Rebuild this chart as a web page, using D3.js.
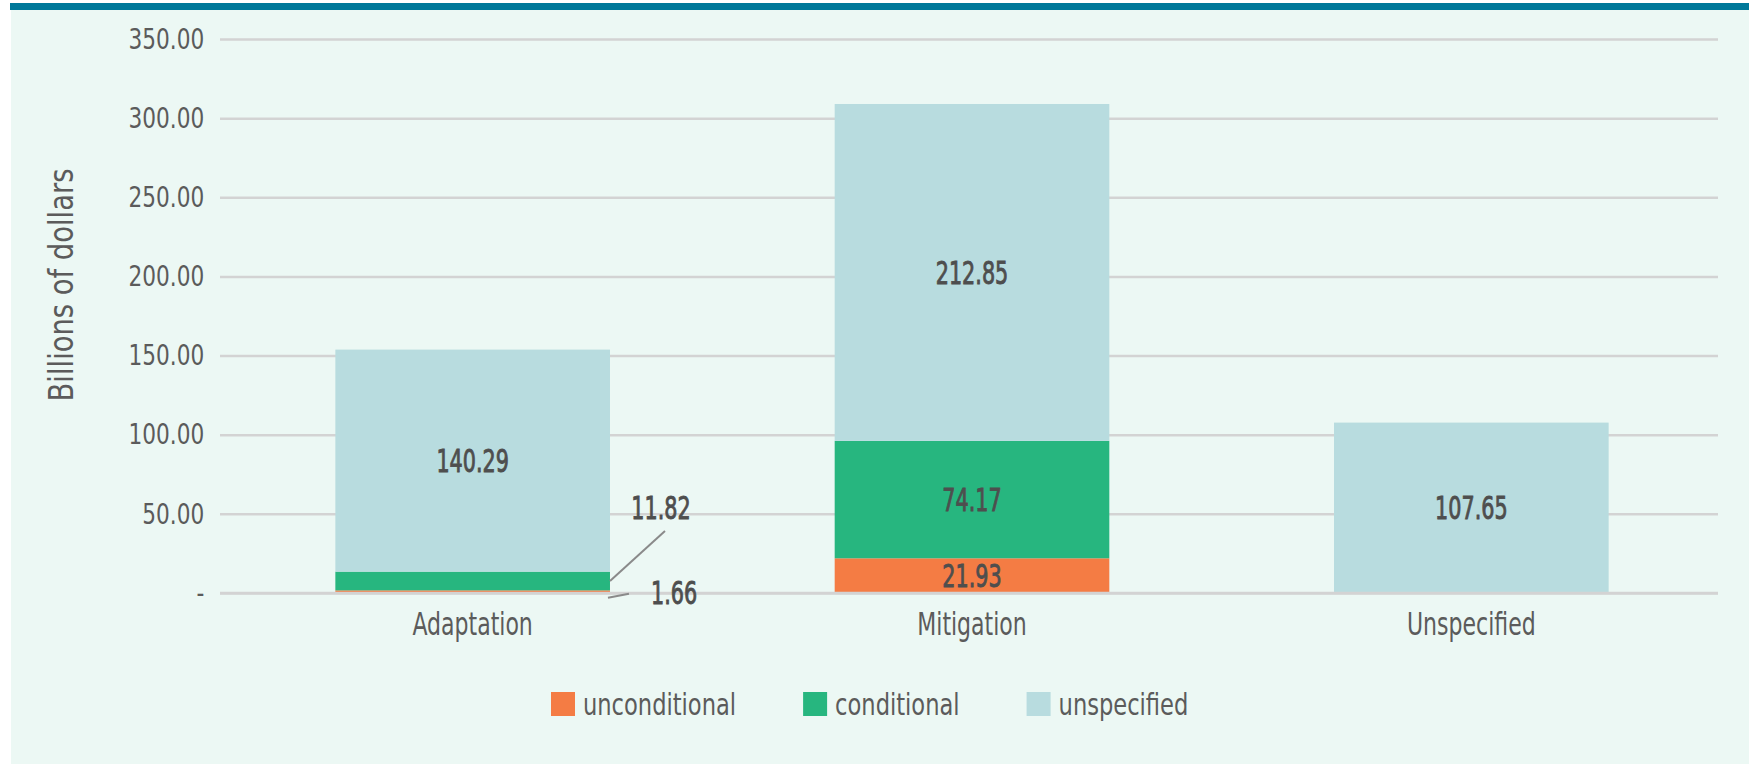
<!DOCTYPE html>
<html>
<head>
<meta charset="utf-8">
<script src="https://cdn.jsdelivr.net/npm/d3@7"></script>
<style>
  body { margin: 0; background: #fff; }
</style>
</head>
<body>
<div id="chart"></div>
<script>
const categories = ["Adaptation", "Mitigation", "Unspecified"];
const seriesKeys = ["unconditional", "conditional", "unspecified"];
const unconditional = [1.66, 21.93, 0];
const conditional = [11.82, 74.17, 0];
const unspecified = [140.29, 212.85, 107.65];
const yTicks = [0, 50, 100, 150, 200, 250, 300, 350];
const colors = ["#f47c44", "#27b67f", "#b8dcdf"];

const FONT = "'Liberation Sans Narrow', 'DejaVu Sans Condensed', sans-serif";
const W = 1749, H = 764;
const margin = {top: 39, right: 31, bottom: 171, left: 220};
const plotW = W - margin.left - margin.right;
const plotH = H - margin.top - margin.bottom;

const svg = d3.select("#chart").append("svg")
    .attr("width", W)
    .attr("height", H);

// panel background + top rule
svg.append("rect").attr("x", 11).attr("y", 10).attr("width", W - 11).attr("height", H - 10).attr("fill", "#ecf8f4");
svg.append("rect").attr("x", 10).attr("y", 3).attr("width", W - 10).attr("height", 7).attr("fill", "#00789a");

const g = svg.append("g").attr("transform", `translate(${margin.left},${margin.top})`);

const x = d3.scaleBand()
    .domain(categories)
    .range([3, plotW + 3])
    .paddingInner(0.45)
    .paddingOuter(0.225);

const y = d3.scaleLinear().domain([0, 350]).range([plotH, 0]);

const color = d3.scaleOrdinal().domain(seriesKeys).range(colors);

// the font is too wide, so every text gets squeezed sideways
const TICK_SX = 0.83;

// Y axis with gridlines
const yAxis = g.append("g")
    .call(d3.axisLeft(y)
        .tickValues(yTicks)
        .tickSize(-plotW)
        .tickPadding(19)
        .tickFormat(d => d === 0 ? "-" : d3.format(".2f")(d)));
yAxis.select(".domain").remove();
yAxis.selectAll("line").attr("stroke", "#d3d3d3").attr("stroke-width", 2.5);
yAxis.selectAll("text")
    .attr("font-family", FONT)
    .attr("font-size", 29)
    .attr("fill", "#5b5b5b")
    .attr("transform", `scale(${TICK_SX},1)`);

// Stacked bars
const rows = categories.map((c, i) => ({
    category: c,
    unconditional: unconditional[i],
    conditional: conditional[i],
    unspecified: unspecified[i]
}));
const stacked = d3.stack().keys(seriesKeys)(rows);

g.selectAll("g.layer")
    .data(stacked)
    .join("g")
    .attr("class", "layer")
    .attr("fill", d => color(d.key))
    .selectAll("rect")
    .data(d => d)
    .join("rect")
    .attr("x", d => x(d.data.category))
    .attr("y", d => y(d[1]))
    .attr("width", x.bandwidth())
    .attr("height", d => y(d[0]) - y(d[1]));

// zero line sits on top of the bars, as in the original
g.append("line")
    .attr("x1", 0).attr("x2", plotW)
    .attr("y1", y(0)).attr("y2", y(0))
    .attr("stroke", "#d3d3d3").attr("stroke-width", 2.5);

// Value labels
const segs = [];
stacked.forEach(layer => layer.forEach(p => {
    const v = p.data[layer.key];
    if (v > 0) segs.push({key: layer.key, cat: p.data.category, v: v, y0: p[0], y1: p[1]});
}));

function condText(sel, px, py, sx) {
    return sel.append("g").attr("transform", `translate(${px},${py})`)
        .append("text").attr("transform", `scale(${sx},1)`);
}

function valueText(t) {
    return t.attr("dy", "0.36em")
        .attr("font-family", FONT)
        .attr("font-size", 32)
        .attr("fill", "#4e4e4e")
        .attr("stroke", "#4e4e4e")
        .attr("stroke-width", 0.9);
}

segs.filter(s => s.v >= 15).forEach(s => {
    valueText(condText(g, x(s.cat) + x.bandwidth() / 2, y((s.y0 + s.y1) / 2), 0.72))
        .attr("text-anchor", "middle")
        .text(d3.format(".2f")(s.v));
});

// Callouts for thin segments
const callout = {
    conditional: {lx1: 0, ly1: 0, lx2: 55, ly2: -50, tx: 51, ty: -74, anchor: "middle"},
    unconditional: {lx1: -2, ly1: 6, lx2: 19, ly2: 2, tx: 41, ty: 1, anchor: "start"}
};
segs.filter(s => s.v < 15).forEach(s => {
    const c = callout[s.key];
    const bx = x(s.cat) + x.bandwidth();
    const by = y((s.y0 + s.y1) / 2);
    g.append("line")
        .attr("x1", bx + c.lx1).attr("y1", by + c.ly1)
        .attr("x2", bx + c.lx2).attr("y2", by + c.ly2)
        .attr("stroke", "#8a8a8a").attr("stroke-width", 2);
    valueText(condText(g, bx + c.tx, by + c.ty, 0.72))
        .attr("text-anchor", c.anchor)
        .text(d3.format(".2f")(s.v));
});

// Category labels
categories.forEach(c => {
    condText(g, x(c) + x.bandwidth() / 2, plotH + 42, 0.765)
        .attr("text-anchor", "middle")
        .attr("font-family", FONT)
        .attr("font-size", 32)
        .attr("fill", "#5b5b5b")
        .text(c);
});

// Y axis title
svg.append("text")
    .attr("transform", "translate(61,285) rotate(-90) scale(0.895,1)")
    .attr("text-anchor", "middle")
    .attr("dy", "0.36em")
    .attr("font-family", FONT)
    .attr("font-size", 34)
    .attr("fill", "#5b5b5b")
    .text("Billions of dollars");

// Legend
const LEG_SX = 0.81;
const legend = svg.append("g").attr("transform", "translate(551,704)");
let lx = 0;
seriesKeys.forEach(k => {
    const item = legend.append("g").attr("transform", `translate(${lx},0)`);
    item.append("rect").attr("x", 0).attr("y", -12).attr("width", 24).attr("height", 24).attr("fill", color(k));
    const t = condText(item, 32, 0, LEG_SX)
        .attr("dy", "0.36em")
        .attr("font-family", FONT)
        .attr("font-size", 31)
        .attr("fill", "#5b5b5b")
        .text(k);
    lx += 32 + t.node().getComputedTextLength() * LEG_SX + 67;
});
</script>
</body>
</html>
